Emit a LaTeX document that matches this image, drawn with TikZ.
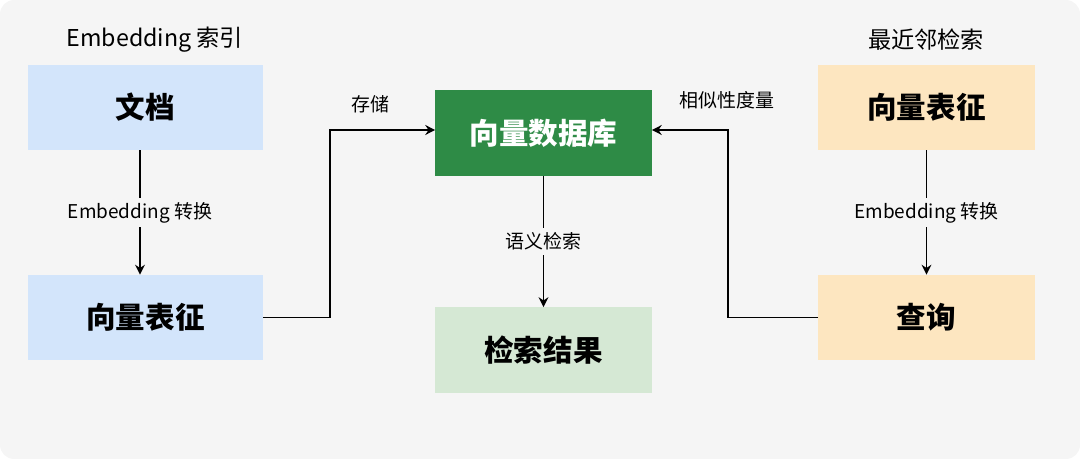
\documentclass[tikz,border=0pt]{standalone}
\usepackage{fontspec}
\setmainfont{Noto Sans CJK SC}
\usetikzlibrary{arrows.meta}
\definecolor{bg}{HTML}{F5F5F5}
\definecolor{lblue}{HTML}{D3E5FB}
\definecolor{dgreen}{HTML}{2E8B46}
\definecolor{lgreen}{HTML}{D5E8D4}
\definecolor{lorange}{HTML}{FDE6C0}
\begin{document}
\begin{tikzpicture}[x=0.025cm,y=-0.025cm,
  box/.style={minimum width=5.4cm,minimum height=2.13cm,inner sep=0pt,font=\fontsize{21}{23}\selectfont\bfseries},
  title/.style={font=\fontsize{16.5}{18}\selectfont},
  lab/.style={font=\fontsize{13.5}{15}\selectfont,fill=bg,inner sep=3pt},
  lab2/.style={font=\fontsize{13.5}{15}\selectfont,inner sep=2pt},
  conn/.style={line width=1.1pt,-{Stealth[length=7pt,width=7pt]}}]
\fill[bg,rounded corners=10pt] (0,0) rectangle (1080,459);
\node[title] (t1) at (155,40) {Embedding 索引};
\node[title] (t2) at (926,40) {最近邻检索};
\node[box,fill=lblue,minimum width=5.875cm] (doc) at (145.5,107.5) {文档};
\node[box,fill=lblue,minimum width=5.875cm] (vl) at (145.5,317.5) {向量表征};
\node[box,fill=dgreen,text=white] (db) at (543.5,133) {向量数据库};
\node[box,fill=lgreen] (res) at (543.5,350) {检索结果};
\node[box,fill=lorange] (vr) at (926.5,107.5) {向量表征};
\node[box,fill=lorange] (q) at (926.5,317.5) {查询};
\draw[conn] (doc.south -| 140,0) -- (vl.north -| 140,0) node[lab,midway] {Embedding 转换};
\draw[conn] (vr) -- (q) node[lab,midway] {Embedding 转换};
\draw[conn] (db) -- (res) node[lab,midway] {语义检索};
\draw[conn] (vl.east) -- (330,317.5) -- (330,130) -- (db.west |- 0,130);
\draw[conn] (q.west) -- (728,317.5) -- (728,130) -- (db.east |- 0,130);
\node[lab2] (s1) at (370,104) {存储};
\node[lab2] (s2) at (727,100) {相似性度量};
\end{tikzpicture}
\end{document}
